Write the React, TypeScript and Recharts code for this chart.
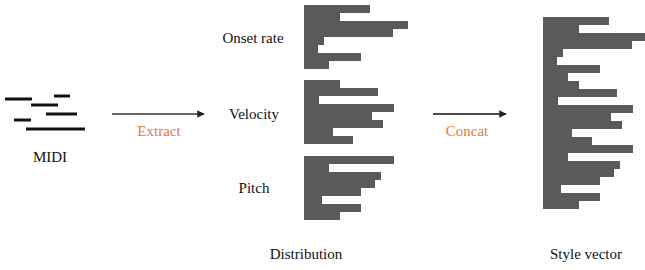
import { BarChart, Bar, XAxis, YAxis, ComposedChart, ReferenceLine } from 'recharts';

// feature histograms (bar length, arbitrary units)
const onsetRate = [66, 36, 104, 89, 20, 14, 57, 25];
const velocity = [36, 74, 15, 90, 68, 79, 29, 49];
const pitch = [90, 25, 77, 71, 57, 18, 57, 36];
// style vector = concat of the three distributions
const styleVector = [...onsetRate, ...velocity, ...pitch];

// piano-roll notes of the MIDI icon
const midiNotes = [
  { start: 5, end: 32, pitch: 10 },
  { start: 54, end: 70, pitch: 11 },
  { start: 31, end: 58, pitch: 8 },
  { start: 46, end: 77, pitch: 5 },
  { start: 14, end: 31, pitch: 3 },
  { start: 26, end: 85, pitch: 0 },
];

const BAR = '#5a5a5a';
const ORANGE = '#e07a3f';
const FONT = '"Liberation Serif", "Times New Roman", serif';

function Hist({ values, left, top }: { values: number[]; left: number; top: number }) {
  const data = values.map((v, i) => ({ bin: i, value: v }));
  // 8px per bin so bars butt together without gaps
  return (
    <div style={{ position: 'absolute', left, top }}>
      <BarChart
        width={110}
        height={values.length * 8}
        data={data}
        layout="vertical"
        margin={{ top: 0, right: 0, bottom: 0, left: 0 }}
        barCategoryGap={0}
      >
        <XAxis type="number" domain={[0, 110]} hide />
        <YAxis type="category" dataKey="bin" hide />
        <Bar dataKey="value" fill={BAR} isAnimationActive={false} />
      </BarChart>
    </div>
  );
}

function Midi() {
  return (
    <div style={{ position: 'absolute', left: 0, top: 90 }}>
      <ComposedChart width={90} height={42} data={midiNotes} margin={{ top: 0, right: 0, bottom: 0, left: 0 }}>
        <XAxis type="number" dataKey="start" domain={[0, 90]} hide />
        <YAxis type="number" dataKey="pitch" domain={[-1, 13]} hide />
        {midiNotes.map((n, i) => (
          <ReferenceLine
            key={i}
            segment={[{ x: n.start, y: n.pitch }, { x: n.end, y: n.pitch }]}
            stroke="#111"
            strokeWidth={3}
            ifOverflow="visible"
          />
        ))}
      </ComposedChart>
    </div>
  );
}

export default function App() {
  return (
    <div
      style={{
        position: 'absolute', left: 0, top: 0, width: 645, height: 270,
        overflow: 'hidden', background: '#fff', fontFamily: FONT,
      }}
    >
      <Midi />
      <Hist values={onsetRate} left={304} top={5} />
      <Hist values={velocity} left={304} top={80} />
      <Hist values={pitch} left={304} top={156} />
      <Hist values={styleVector} left={543} top={17} />

      <svg width={645} height={270} style={{ position: 'absolute', left: 0, top: 0, pointerEvents: 'none' }}>
        <defs>
          <marker id="arr" viewBox="0 0 10 10" refX="9" refY="5" markerWidth="5" markerHeight="5" orient="auto">
            <path d="M0,0 L10,5 L0,10 z" fill="#222" />
          </marker>
        </defs>
        <line x1={112} y1={114} x2={204} y2={114} stroke="#333" strokeWidth={1.5} markerEnd="url(#arr)" />
        <line x1={433} y1={114} x2={506} y2={114} stroke="#111" strokeWidth={1.5} markerEnd="url(#arr)" />
        <g fontFamily={FONT} fontSize={15} textAnchor="middle" fill="#111">
          <text x={50} y={162}>MIDI</text>
          <text x={253} y={43}>Onset rate</text>
          <text x={254} y={119}>Velocity</text>
          <text x={254} y={193}>Pitch</text>
          <text x={306} y={259}>Distribution</text>
          <text x={586} y={259}>Style vector</text>
          <text x={159} y={136} fill={ORANGE}>Extract</text>
          <text x={467} y={136} fill={ORANGE}>Concat</text>
        </g>
      </svg>
    </div>
  );
}
